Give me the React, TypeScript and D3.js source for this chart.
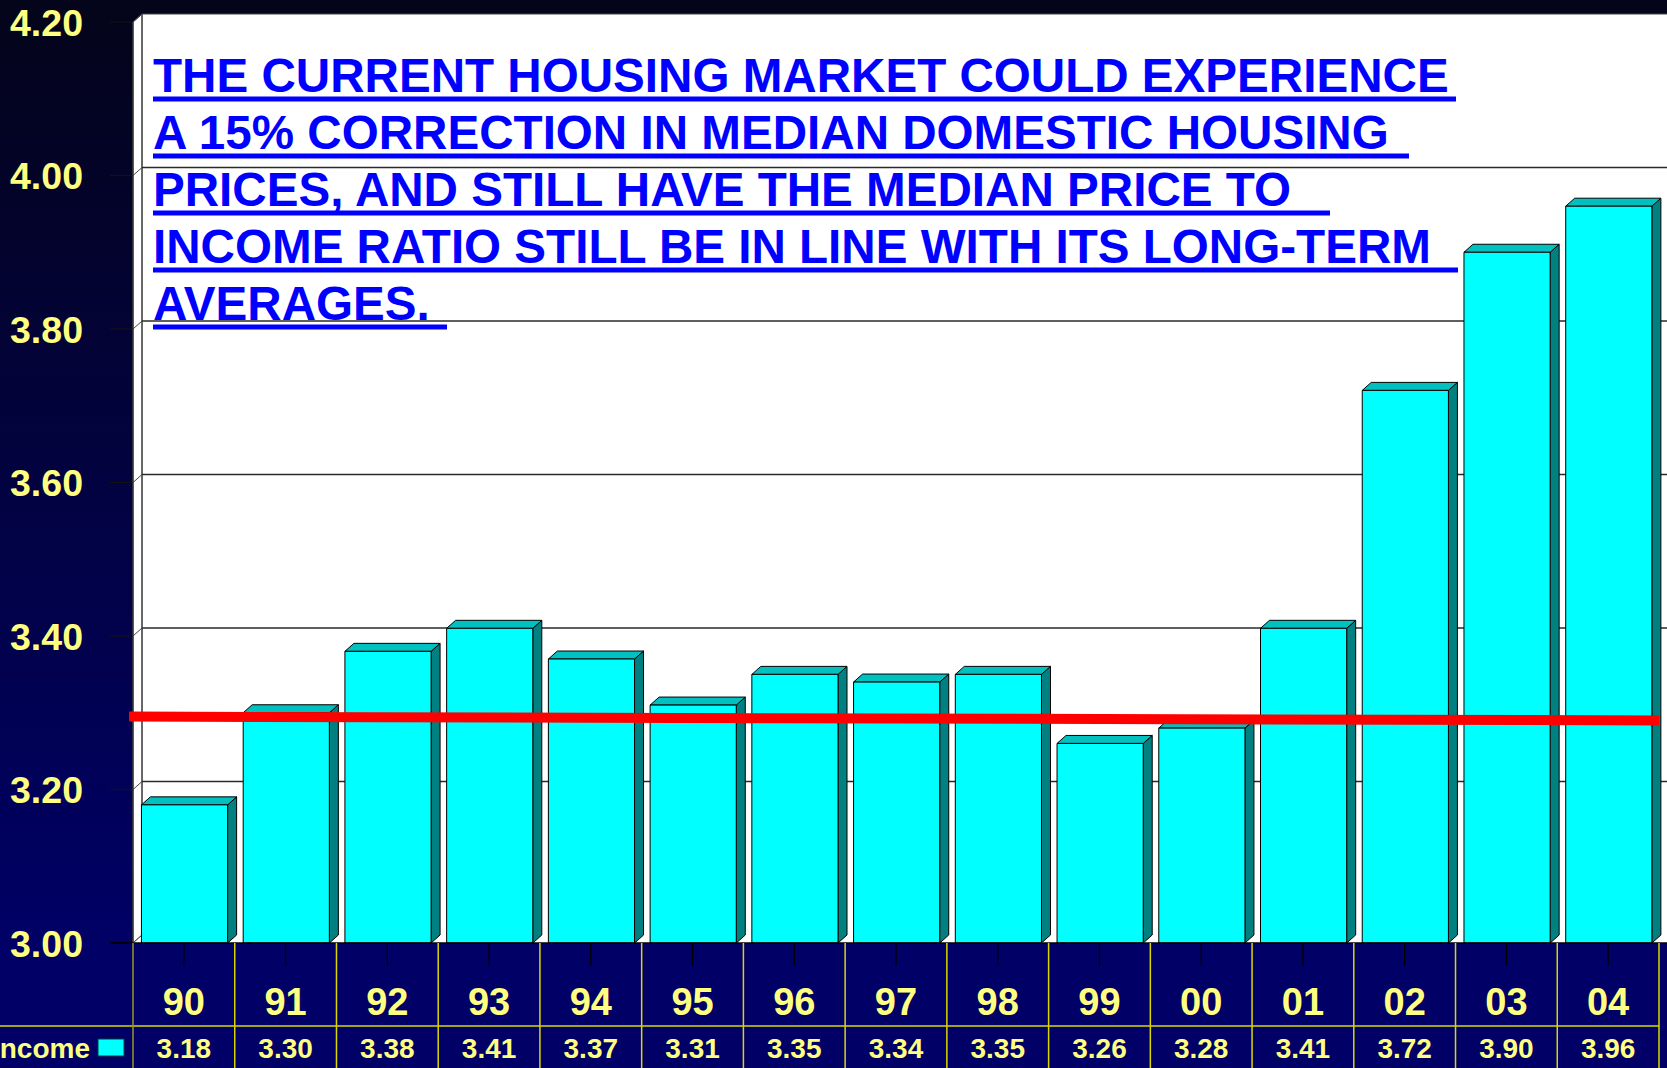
import React from "react";
import * as d3 from "d3";

const years = ["90", "91", "92", "93", "94", "95", "96", "97", "98", "99", "00", "01", "02", "03", "04"];
const ratios = [3.18, 3.3, 3.38, 3.41, 3.37, 3.31, 3.35, 3.34, 3.35, 3.26, 3.28, 3.41, 3.72, 3.9, 3.96];
const valueLabels = ["3.18", "3.30", "3.38", "3.41", "3.37", "3.31", "3.35", "3.34", "3.35", "3.26", "3.28", "3.41", "3.72", "3.90", "3.96"];
const yTicks = [3.0, 3.2, 3.4, 3.6, 3.8, 4.0, 4.2];
const yTickLabels = ["3.00", "3.20", "3.40", "3.60", "3.80", "4.00", "4.20"];
const averageLine = [3.295, 3.29]; // long-term average ratio, left and right ends
const seriesName = "Income";
const titleLines = [
  "THE CURRENT HOUSING MARKET COULD EXPERIENCE",
  "A 15% CORRECTION IN MEDIAN DOMESTIC HOUSING",
  "PRICES, AND STILL HAVE THE MEDIAN PRICE TO",
  "INCOME RATIO STILL BE IN LINE WITH ITS LONG-TERM",
  "AVERAGES.",
];

// layout
const W = 1667;
const H = 1068;
const LEFT = 133;
const RIGHT = 1659;
const TOP = 22;
const BOTTOM = 943;
const DX = 9;
const DY = -8;
const titleX = 153;
const titleBaselines = [92, 149, 206, 263, 320];
const underlineEnds = [1456, 1409, 1330, 1458, 447];
const FONT = "'Liberation Sans', Arial, Helvetica, sans-serif";
const YELLOW = "#ffff80";

export default function App() {
  const y = d3.scaleLinear().domain([3.0, 4.2]).range([BOTTOM, TOP]);
  const x = d3.scaleBand<string>().domain(years).range([LEFT, RIGHT]);
  const bw = x.bandwidth();
  const barOff = bw * 0.083;
  const barW = bw * 0.847;

  const rowLine = 1026;

  return (
    <svg
      width={W}
      height={H}
      style={{ position: "absolute", left: 0, top: 0, display: "block" }}
      xmlns="http://www.w3.org/2000/svg"
    >
      <defs>
        <linearGradient id="bg" x1="0" y1="0" x2="0" y2="1">
          <stop offset="0" stopColor="#04041a" />
          <stop offset="1" stopColor="#000066" />
        </linearGradient>
      </defs>
      <rect x={0} y={0} width={W} height={BOTTOM} fill="url(#bg)" />
      <rect x={0} y={BOTTOM} width={W} height={H - BOTTOM} fill="#000066" />

      {/* back wall */}
      <rect x={LEFT + DX} y={TOP + DY} width={W - LEFT - DX} height={BOTTOM - TOP} fill="#ffffff" />
      {/* left side wall */}
      <polygon
        points={`${LEFT},${BOTTOM} ${LEFT + DX},${BOTTOM + DY} ${LEFT + DX},${TOP + DY} ${LEFT},${TOP}`}
        fill="#ffffff"
        stroke="#444"
        strokeWidth={1}
      />
      {/* floor */}
      <polygon
        points={`${LEFT},${BOTTOM} ${LEFT + DX},${BOTTOM + DY} ${W},${BOTTOM + DY} ${W},${BOTTOM}`}
        fill="#ffffff"
      />
      <line x1={LEFT + DX} y1={TOP + DY} x2={W} y2={TOP + DY} stroke="#444" strokeWidth={1.2} />
      <line x1={LEFT + DX} y1={TOP + DY} x2={LEFT + DX} y2={BOTTOM + DY} stroke="#555" strokeWidth={1.5} />

      {/* gridlines */}
      {yTicks.map((t, i) => (
        <g key={"g" + i}>
          {i > 0 && i < yTicks.length - 1 && (
            <line x1={LEFT + DX} x2={W} y1={y(t) + DY} y2={y(t) + DY} stroke="#2a2a2a" strokeWidth={1.3} />
          )}
          <line x1={LEFT} y1={y(t)} x2={LEFT + DX} y2={y(t) + DY} stroke="#444" strokeWidth={1} />
          <line x1={110} x2={LEFT} y1={y(t)} y2={y(t)} stroke="#111" strokeWidth={1.3} />
          <text
            x={83}
            y={y(t) + 13.5}
            textAnchor="end"
            fontFamily={FONT}
            fontWeight="bold"
            fontSize={37.5}
            fill={YELLOW}
          >
            {yTickLabels[i]}
          </text>
        </g>
      ))}
      <line x1={LEFT} x2={LEFT} y1={TOP} y2={BOTTOM} stroke="#333" strokeWidth={1.3} />

      {/* title */}
      {titleLines.map((line, i) => (
        <g key={"t" + i}>
          <text
            x={titleX}
            y={titleBaselines[i]}
            fontFamily={FONT}
            fontWeight="bold"
            fontSize={47.6}
            fill="#0000ff"
          >
            {line}
          </text>
          <rect
            x={titleX}
            y={titleBaselines[i] + 4.5}
            width={underlineEnds[i] - titleX}
            height={5}
            fill="#0000ff"
          />
        </g>
      ))}

      {/* bars */}
      {years.map((yr, i) => {
        const x0 = (x(yr) as number) + barOff;
        const x1 = x0 + barW;
        const yt = y(ratios[i]);
        return (
          <g key={"b" + i} stroke="#000" strokeWidth={1} strokeLinejoin="round">
            <polygon
              points={`${x1},${yt} ${x1 + DX},${yt + DY} ${x1 + DX},${BOTTOM + DY} ${x1},${BOTTOM}`}
              fill="#008080"
            />
            <polygon
              points={`${x0},${yt} ${x1},${yt} ${x1 + DX},${yt + DY} ${x0 + DX},${yt + DY}`}
              fill="#00c0c0"
            />
            <rect x={x0} y={yt} width={barW} height={BOTTOM - yt} fill="#00ffff" />
          </g>
        );
      })}

      {/* average line */}
      <line
        x1={LEFT - 4}
        x2={RIGHT}
        y1={y(averageLine[0])}
        y2={y(averageLine[1])}
        stroke="#ff0000"
        strokeWidth={10}
      />

      {/* category axis */}
      <line x1={110} x2={W} y1={BOTTOM} y2={BOTTOM} stroke="#000" strokeWidth={1.5} />
      {years.map((yr, i) => {
        const cx = (x(yr) as number) + bw / 2;
        return (
          <g key={"c" + i}>
            <line x1={cx} x2={cx} y1={BOTTOM} y2={966} stroke="#000" strokeWidth={1.3} />
            <text
              x={cx}
              y={1015}
              textAnchor="middle"
              fontFamily={FONT}
              fontWeight="bold"
              fontSize={38}
              fill={YELLOW}
            >
              {yr}
            </text>
            <text
              x={cx}
              y={1058}
              textAnchor="middle"
              fontFamily={FONT}
              fontWeight="bold"
              fontSize={28}
              fill={YELLOW}
            >
              {valueLabels[i]}
            </text>
          </g>
        );
      })}

      {/* table grid */}
      <line x1={0} x2={RIGHT} y1={rowLine} y2={rowLine} stroke="#d8d800" strokeWidth={1.5} />
      {[...years.map((yr) => x(yr) as number), RIGHT].map((vx, i) => (
        <line
          key={"v" + i}
          x1={vx}
          x2={vx}
          y1={BOTTOM}
          y2={H}
          stroke={i === 0 ? "#9a9a20" : "#d8d800"}
          strokeWidth={1.5}
        />
      ))}

      {/* legend key (cut at the left edge, as in the original) */}
      <text x={90} y={1058} textAnchor="end" fontFamily={FONT} fontWeight="bold" fontSize={28} fill={YELLOW}>
        {seriesName}
      </text>
      <rect x={98} y={1039} width={26} height={17} fill="#00ffff" stroke="#004040" strokeWidth={1} />
    </svg>
  );
}
